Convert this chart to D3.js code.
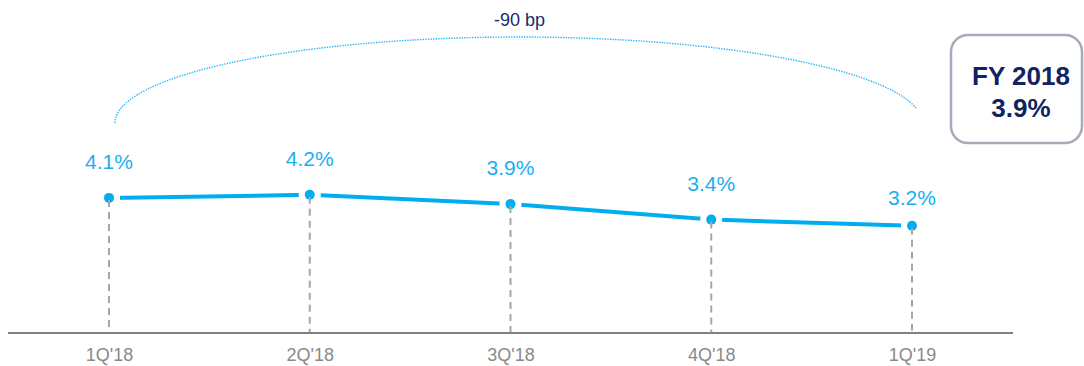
<!DOCTYPE html>
<html>
<head>
<meta charset="utf-8">
<script src="https://cdn.jsdelivr.net/npm/d3@7"></script>
<style>
  html, body { margin: 0; padding: 0; background: #fff; }
  svg { display: block; font-family: "Liberation Sans", Arial, sans-serif; }
</style>
</head>
<body>
<svg id="chart" width="1084" height="366"></svg>
<script>
// Quarterly rate series
const quarters = ["1Q'18", "2Q'18", "3Q'18", "4Q'18", "1Q'19"];
const rates = [4.1, 4.2, 3.9, 3.4, 3.2];
const rateLabels = ["4.1%", "4.2%", "3.9%", "3.4%", "3.2%"];
const changeLabel = "-90 bp";
const summaryLines = ["FY 2018", "3.9%"];

const svg = d3.select("#chart");
const blue = "#00aeef";
const navy = "#142d6b";

const x = d3.scalePoint().domain(quarters).range([109, 912]);
const y = d3.scaleLinear().domain([0, 5]).range([325, 170]);
const baseY = 333;

const data = quarters.map((q, i) => ({ q, v: rates[i], label: rateLabels[i], i }));

// Baseline axis
const axis = d3.axisBottom(x).tickSize(0).tickPadding(15);
const gAxis = svg.append("g").attr("transform", `translate(0,${baseY})`).call(axis);
gAxis.select(".domain").remove();
gAxis.append("line").attr("x1", 8).attr("x2", 1013).attr("y1", 0).attr("y2", 0)
  .attr("stroke", "#808080").attr("stroke-width", 2);
gAxis.selectAll(".tick text")
  .attr("fill", "#8a8a8a").attr("font-size", 18)
  .attr("font-family", "Liberation Sans, Arial, sans-serif");

// Series line
svg.append("path").datum(data)
  .attr("fill", "none").attr("stroke", blue).attr("stroke-width", 4)
  .attr("d", d3.line().x(d => x(d.q)).y(d => y(d.v)));

// White halos to open gaps around the markers
svg.selectAll("circle.halo").data(data).join("circle")
  .attr("class", "halo").attr("cx", d => x(d.q)).attr("cy", d => y(d.v))
  .attr("r", 11).attr("fill", "#fff");

// Markers
svg.selectAll("circle.dot").data(data).join("circle")
  .attr("class", "dot").attr("cx", d => x(d.q)).attr("cy", d => y(d.v))
  .attr("r", 5).attr("fill", blue);

// Dashed drop lines
svg.selectAll("line.drop").data(data).join("line")
  .attr("class", "drop")
  .attr("x1", d => x(d.q)).attr("x2", d => x(d.q))
  .attr("y1", d => y(d.v) + 2).attr("y2", baseY - 1)
  .attr("stroke", "#a6a6a6").attr("stroke-width", 2)
  .attr("stroke-dasharray", "7,5");

// Value labels (the last one sits a little closer to its marker)
const last = data.length - 1;
svg.selectAll("text.val").data(data).join("text")
  .attr("class", "val")
  .attr("x", d => x(d.q)).attr("y", d => y(d.v) - (d.i === last ? 21 : 29))
  .attr("text-anchor", "middle").attr("fill", "#19aff2")
  .attr("font-size", 21).text(d => d.label);

// Change bracket: half-ellipse from the first quarter over to the last
const xFirst = x(quarters[0]) + 6;
const xLast = x(quarters[last]) + 4;
const arcBase = 123, arcTop = 37, endRise = 15;
const ry = arcBase - arcTop;
const endAngle = Math.asin(endRise / ry);
const rx = (xLast - xFirst) / (1 + Math.cos(endAngle));
const cx = xFirst + rx;
const angles = d3.range(0, 201).map(k => Math.PI - (Math.PI - endAngle) * k / 200);
svg.append("path")
  .attr("d", d3.line()(angles.map(a => [cx + rx * Math.cos(a), arcBase - ry * Math.sin(a)])))
  .attr("fill", "none").attr("stroke", "#29b6f6").attr("stroke-width", 1.4)
  .attr("stroke-dasharray", "1.4,1.2");

svg.append("text")
  .attr("x", (x(quarters[0]) + x(quarters[last])) / 2 + 9)
  .attr("y", 26).attr("text-anchor", "middle")
  .attr("fill", navy).attr("font-size", 18).text(changeLabel);

// Full-year summary box
svg.append("rect")
  .attr("x", 951).attr("y", 35).attr("width", 131).attr("height", 108)
  .attr("rx", 17).attr("ry", 17)
  .attr("fill", "#fff").attr("stroke", "#a3acb7").attr("stroke-width", 2.5);

svg.append("text")
  .attr("text-anchor", "middle")
  .attr("fill", "#0f2461").attr("font-size", 26).attr("font-weight", "bold")
  .selectAll("tspan").data(summaryLines).join("tspan")
  .attr("x", 1021).attr("y", (d, i) => 85 + i * 32).text(d => d);
</script>
</body>
</html>
